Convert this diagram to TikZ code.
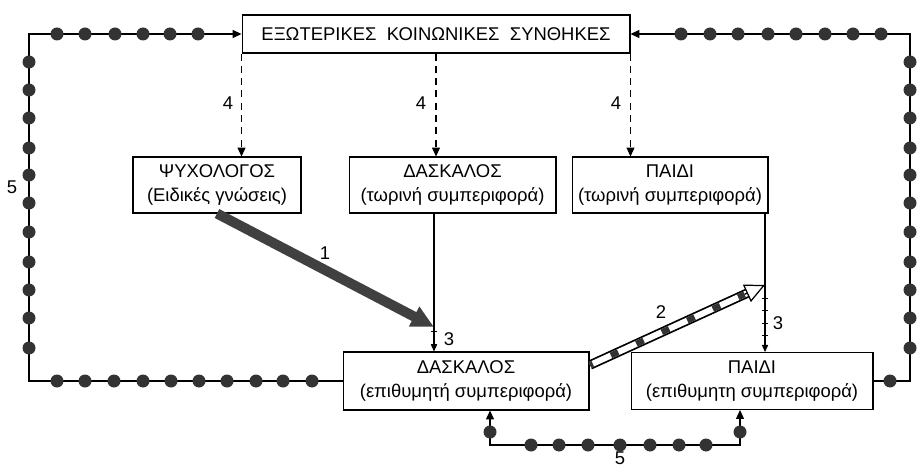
\documentclass[tikz,border=0pt]{standalone}
\usepackage{fontspec}
\setmainfont{Liberation Sans}
\usetikzlibrary{calc,arrows.meta,decorations.markings}
\tikzset{
  box/.style={draw, line width=0.6pt, align=center, inner sep=0pt, font=\fontsize{10.5}{14}\selectfont},
  dashline/.style={dash pattern=on 4pt off 3pt, line width=0.6pt, -{Triangle[length=5pt,width=4.5pt]}},
  beadline/.style={line width=0.6pt},
  tickline/.style={line width=0.6pt, -{Triangle[length=4pt,width=3.5pt]},
    postaction={decorate}, decoration={markings,
      mark=between positions 0.2 and 0.8 step 7pt with {\draw[line width=0.5pt, -] (0,-1.5pt) -- (0,1.5pt);}}},
  lbl/.style={font=\fontsize{10.5}{12}\selectfont}
}
\newcommand{\bead}[1]{\fill[black!80] (#1) circle (6.5);}
\begin{document}
\begin{tikzpicture}[x=0.02cm, y=-0.02cm, >={Triangle[length=5pt,width=4.5pt]}]
    \useasboundingbox (0,0) rectangle (918,469);

    % boxes
    \node[box, minimum width=7.76cm, minimum height=0.76cm] (ext) at (436,34) {ΕΞΩΤΕΡΙΚΕΣ\ \ ΚΟΙΝΩΝΙΚΕΣ\ \ ΣΥΝΘΗΚΕΣ};
    \node[box, minimum width=3.36cm, minimum height=1.12cm] (psy) at (217,185) {ΨΥΧΟΛΟΓΟΣ\\(Ειδικές γνώσεις)};
    \node[box, minimum width=4.14cm, minimum height=1.12cm] (dn) at (452.5,185) {ΔΑΣΚΑΛΟΣ\\(τωρινή συμπεριφορά)};
    \node[box, minimum width=3.92cm, minimum height=1.12cm] (pn) at (670,185) {ΠΑΙΔΙ\\(τωρινή συμπεριφορά)};
    \node[box, minimum width=4.92cm, minimum height=1.16cm] (dw) at (466,381) {ΔΑΣΚΑΛΟΣ\\(επιθυμητή συμπεριφορά)};
    \node[box, minimum width=4.84cm, minimum height=1.14cm] (pw) at (752,381) {ΠΑΙΔΙ\\(επιθυμητη συμπεριφορά)};

    % corners and meeting points
    \coordinate (lb) at (29,381);
    \coordinate (lt) at (29,34);
    \coordinate (rb) at (910,381);
    \coordinate (rt) at (910,34);
    \coordinate (bl) at (490,445);
    \coordinate (br) at (740,445);
    \coordinate (m1) at (434,327);
    \coordinate (s2) at (590,365);
    \coordinate (m2) at (765,285);

    % 4 : dashed arrows
    \draw[dashline] (ext.south west) -- (ext.south west |- psy.north);
    \draw[dashline] (ext.south) -- (ext.south |- dn.north);
    \draw[dashline] (ext.south east) -- (ext.south east |- pn.north);
    \node[lbl] (l4a) at (228,103) {4};
    \node[lbl] (l4b) at (421,103) {4};
    \node[lbl] (l4c) at (616,103) {4};

    % 5 : beaded loops
    \draw[beadline, ->] (dw.west) -- (lb) -- (lt) -- (ext.west);
    \draw[beadline, ->] (pw.east) -- (rb) -- (rt) -- (ext.east);
    \draw[beadline, <->] (dw.south -| bl) -- (bl) -- (br) -- (pw.south -| br);
    \foreach \x in {57,85,114,143,171,199,227,256,283,312} {\bead{\x,381}}
    \foreach \y in {62,90,118,148,175,203,232,262,290,318,348} {\bead{29,\y} \bead{910,\y}}
    \foreach \x in {57,85,115,143,170,198} {\bead{\x,34}}
    \foreach \x in {681,710,738,768,796,825,853,881} {\bead{\x,34}}
    \bead{890,381}
    \bead{490,432} \bead{740,432}
    \foreach \x in {531,559,588,620,650,679,706} {\bead{\x,445}}
    \node[lbl] (l5a) at (12,187) {5};
    \node[lbl] (l5b) at (620,458) {5};

    % 1 : thick arrow
    \draw[black!75, line width=0.2cm, -{Triangle[length=0.45cm,width=0.42cm]}] (psy.south) -- (m1);
    \node[lbl] (l1) at (325,253) {1};

    % 3 : lines down to the wished behaviour
    \draw[line width=0.6pt] (dn.south -| m1) -- (m1);
    \draw[tickline] (m1) -- (m1 |- dw.north);
    \node[lbl] (l3a) at (449,339) {3};
    \draw[line width=0.6pt] (pn.south -| m2) -- (m2);
    \draw[tickline] (m2) -- (m2 |- pw.north);
    \node[lbl] (l3b) at (778,323) {3};

    % 2 : striped arrow
    \draw[black, line width=0.19cm, shorten >=0.35cm] (s2) -- (m2);
    \draw[white, line width=0.12cm, shorten >=0.3cm] (s2) -- (m2);
    \draw[black!80, line width=0.12cm, dash pattern=on 0.16cm off 0.4cm, dash phase=0.1cm, shorten >=0.45cm] (s2) -- (m2);
    \draw[line width=0.7pt, -{Triangle[fill=white,length=0.4cm,width=0.38cm]}] ($(m2)!0.45cm!(s2)$) -- (m2);
    \node[lbl] (l2) at (661,312) {2};
\end{tikzpicture}
\end{document}
